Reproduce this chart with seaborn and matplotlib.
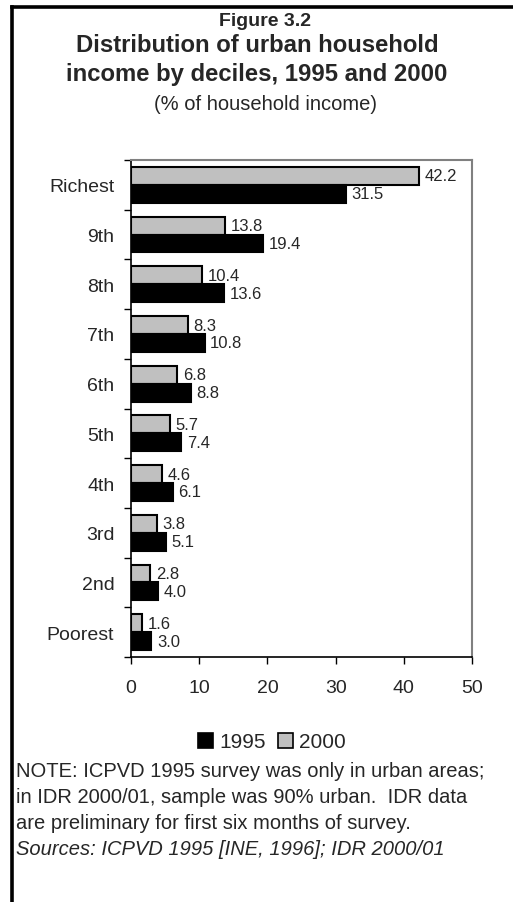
import pandas as pd
import numpy as np
import matplotlib.pyplot as plt
import seaborn as sns
from matplotlib.patches import Patch
from matplotlib.lines import Line2D

deciles = ['Richest', '9th', '8th', '7th', '6th', '5th', '4th', '3rd', '2nd', 'Poorest']
share_1995 = [31.5, 19.4, 13.6, 10.8, 8.8, 7.4, 6.1, 5.1, 4.0, 3.0]
share_2000 = [42.2, 13.8, 10.4, 8.3, 6.8, 5.7, 4.6, 3.8, 2.8, 1.6]
years = ['1995', '2000']
colors = {'1995': 'black', '2000': '#C0C0C0'}

df = pd.DataFrame({
    'decile': deciles * 2,
    'year': ['1995'] * len(deciles) + ['2000'] * len(deciles),
    'value': share_1995 + share_2000,
})

sns.set_style('white')
plt.rcParams['font.family'] = ['Liberation Sans', 'DejaVu Sans']

fig = plt.figure(figsize=(5.13, 9.03), dpi=100)
ax = fig.add_axes([131 / 513, 1 - 658 / 903, (472 - 131) / 513, (658 - 161) / 903])

sns.barplot(data=df, x='value', y='decile', hue='year', order=deciles,
            hue_order=['2000', '1995'], palette=colors, orient='h',
            width=0.72, edgecolor='black', linewidth=1.5, legend=False, ax=ax)

for cont in ax.containers:
    ax.bar_label(cont, fmt='%.1f', padding=4, fontsize=12)

ax.set_xlim(0, 50)
ax.set_xticks(range(0, 51, 10))
ax.set_ylim(len(deciles) - 0.5, -0.5)
ax.set_xlabel('')
ax.set_ylabel('')
ax.set_yticks(np.arange(-0.5, len(deciles), 1), minor=True)
ax.tick_params(axis='y', which='major', length=0, pad=12, labelsize=14)
ax.tick_params(axis='y', which='minor', length=5, width=1, color='black', direction='out', left=True)
ax.tick_params(axis='x', which='major', length=5, width=1, color='black', direction='out',
               bottom=True, pad=11, labelsize=14)
for s in ['top', 'right']:
    ax.spines[s].set_color('#808080')
    ax.spines[s].set_linewidth(1.5)
for s in ['left', 'bottom']:
    ax.spines[s].set_color('black')
    ax.spines[s].set_linewidth(1.2)

fig.text(265 / 513, 1 - 22 / 903, 'Figure 3.2', ha='center', va='center', fontsize=14, fontweight='bold')
fig.text(257 / 513, 1 - 46 / 903, 'Distribution of urban household', ha='center', va='center',
         fontsize=17.2, fontweight='bold')
fig.text(257 / 513, 1 - 74 / 903, 'income by deciles, 1995 and 2000', ha='center', va='center',
         fontsize=17.2, fontweight='bold')
fig.text(265 / 513, 1 - 105 / 903, '(% of household income)', ha='center', va='center', fontsize=14.5)

handles = [Patch(facecolor=colors[y], edgecolor='black', linewidth=1.2) for y in years]
fig.legend(handles, years, loc='center', bbox_to_anchor=(272 / 513, 1 - 743 / 903), ncol=2,
           frameon=False, fontsize=15, handlelength=0.72, handleheight=0.72,
           handletextpad=0.3, columnspacing=0.55)

notes = ['NOTE: ICPVD 1995 survey was only in urban areas;',
         'in IDR 2000/01, sample was 90% urban.  IDR data',
         'are preliminary for first six months of survey.']
for i, line in enumerate(notes):
    fig.text(16 / 513, 1 - (772 + 26 * i) / 903, line, ha='left', va='center', fontsize=14.5)
fig.text(16 / 513, 1 - 850 / 903, 'Sources: ICPVD 1995 [INE, 1996]; IDR 2000/01',
         ha='left', va='center', fontsize=14.5, style='italic')

# outer frame (left and top edges)
fx = 11.5 / 513
fy = 1 - 8 / 903
fig.add_artist(Line2D([fx, fx], [0, fy], color='black', linewidth=2.6,
                      transform=fig.transFigure, solid_capstyle='projecting'))
fig.add_artist(Line2D([fx, 1], [fy, fy], color='black', linewidth=2.6,
                      transform=fig.transFigure, solid_capstyle='projecting'))

fig.savefig('out.png', dpi=100, facecolor='white')
